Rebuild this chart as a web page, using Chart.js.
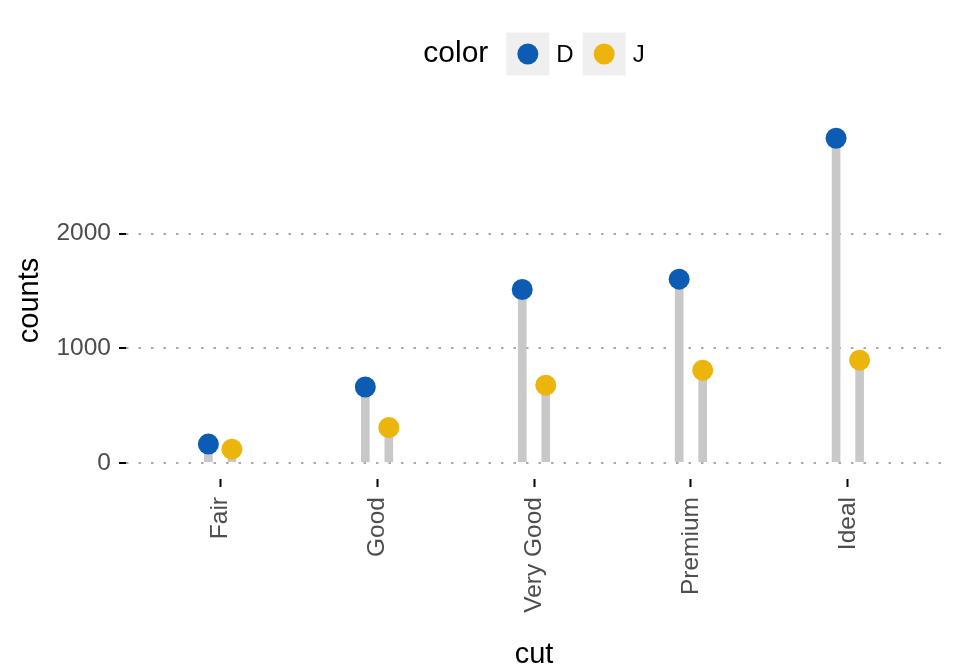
<!DOCTYPE html>
<html lang="en">
<head>
    <meta charset="UTF-8">
    <title>Diamonds by cut and color</title>
    <script src="https://cdn.jsdelivr.net/npm/chart.js"></script>
    <style>
        html, body {
            margin: 0;
            padding: 0;
            background: #fff;
        }
        .chart-container {
            position: relative;
            width: 960px;
            height: 672px;
        }
    </style>
</head>
<body>
    <div class="chart-container">
        <canvas id="lollipopChart"></canvas>
    </div>

    <script>
        // Data
        const cuts = ['Fair', 'Good', 'Very Good', 'Premium', 'Ideal'];
        const colorGroups = ['D', 'J'];
        const countsD = [163, 662, 1513, 1603, 2834];
        const countsJ = [119, 307, 678, 808, 896];
        const yTicks = [0, 1000, 2000];

        const FONT = "'Liberation Sans', Arial, Helvetica, sans-serif";
        const groupColors = ['#0C5CB3', '#EBB50C'];
        const stemColor = '#c8c8c8';
        const dodge = 0.075;   // half of the dodge width (0.3 / 2 groups)

        const seriesValues = [countsD, countsJ];
        const offsets = [-dodge, dodge];

        function toPoints(values, shift) {
            return values.map((v, i) => ({ x: i + shift, y: v }));
        }

        const datasets = [];
        // stems first (drawn underneath)
        colorGroups.forEach((g, k) => {
            datasets.push({
                type: 'bar',
                label: g + ' stem',
                data: toPoints(seriesValues[k], offsets[k]),
                backgroundColor: stemColor,
                borderWidth: 0,
                barThickness: 8,
                grouped: false,
                order: 2
            });
        });
        // points on top
        colorGroups.forEach((g, k) => {
            datasets.push({
                type: 'scatter',
                label: g,
                data: toPoints(seriesValues[k], offsets[k]),
                backgroundColor: groupColors[k],
                borderWidth: 0,
                pointRadius: 10.5,
                pointHoverRadius: 10.5,
                order: 1
            });
        });

        // ggplot-like legend at the top: "color  (o) D  (o) J"
        const topLegend = {
            id: 'topLegend',
            afterDraw(chart) {
                const ctx = chart.ctx;
                const area = chart.chartArea;
                const cy = 54;
                const box = 43;
                const titleFont = '30px ' + FONT;
                const labelFont = '24px ' + FONT;

                ctx.save();
                ctx.font = titleFont;
                const titleW = ctx.measureText('color').width;
                ctx.font = labelFont;
                const labelW = colorGroups.map(g => ctx.measureText(g).width);

                const gapTitle = 18, gapLabel = 7, gapItem = 9;
                let total = titleW + gapTitle;
                labelW.forEach((w, k) => {
                    total += box + gapLabel + w + (k < labelW.length - 1 ? gapItem : 0);
                });

                let x = (area.left + area.right) / 2 - total / 2;
                ctx.textBaseline = 'middle';
                ctx.textAlign = 'left';
                ctx.fillStyle = '#000';
                ctx.font = titleFont;
                ctx.fillText('color', x, cy);
                x += titleW + gapTitle;

                colorGroups.forEach((g, k) => {
                    ctx.fillStyle = '#efefef';
                    ctx.fillRect(x, cy - box / 2, box, box);
                    ctx.beginPath();
                    ctx.arc(x + box / 2, cy, 10.5, 0, Math.PI * 2);
                    ctx.fillStyle = groupColors[k];
                    ctx.fill();
                    x += box + gapLabel;
                    ctx.fillStyle = '#000';
                    ctx.font = labelFont;
                    ctx.fillText(g, x, cy + 1);
                    x += labelW[k] + gapItem;
                });
                ctx.restore();
            }
        };

        const yMax = Math.max(...countsD, ...countsJ);
        const yPad = yMax * 0.05;

        new Chart(document.getElementById('lollipopChart'), {
            type: 'bar',
            data: { datasets: datasets },
            options: {
                responsive: true,
                maintainAspectRatio: false,
                animation: false,
                layout: {
                    padding: { top: 122, right: 18, left: 0, bottom: 0 }
                },
                plugins: {
                    legend: { display: false },
                    tooltip: { enabled: false }
                },
                scales: {
                    x: {
                        type: 'linear',
                        offset: false,
                        min: -0.6,
                        max: cuts.length - 1 + 0.6,
                        afterBuildTicks: scale => {
                            scale.ticks = cuts.map((c, i) => ({ value: i }));
                        },
                        afterFit: scale => { scale.height = 193; },
                        border: { display: false },
                        grid: {
                            offset: false,
                            drawOnChartArea: false,
                            drawTicks: true,
                            tickLength: 8,
                            tickColor: '#000',
                            tickWidth: 2
                        },
                        ticks: {
                            autoSkip: false,
                            maxRotation: 90,
                            minRotation: 90,
                            padding: 10,
                            color: '#4d4d4d',
                            font: { family: FONT, size: 24.5 },
                            callback: v => cuts[v]
                        },
                        title: {
                            display: true,
                            text: 'cut',
                            color: '#000',
                            font: { family: FONT, size: 29 },
                            padding: { top: 0, bottom: 0 }
                        }
                    },
                    y: {
                        type: 'linear',
                        min: -yPad,
                        max: yMax + yPad,
                        afterBuildTicks: scale => {
                            scale.ticks = yTicks.map(v => ({ value: v }));
                        },
                        afterFit: scale => { scale.width = 126; },
                        border: { display: false, dash: [2.5, 10] },
                        grid: {
                            color: '#aaaaaa',
                            lineWidth: 2,
                            drawTicks: true,
                            tickLength: 7,
                            tickColor: '#000',
                            tickWidth: 2,
                            tickBorderDash: []
                        },
                        ticks: {
                            padding: 8,
                            color: '#4d4d4d',
                            font: { family: FONT, size: 24.5 },
                            callback: v => String(v)
                        },
                        title: {
                            display: true,
                            text: 'counts',
                            color: '#000',
                            font: { family: FONT, size: 29 },
                            padding: { top: 13, bottom: 0 }
                        }
                    }
                }
            },
            plugins: [topLegend]
        });
    </script>
</body>
</html>
